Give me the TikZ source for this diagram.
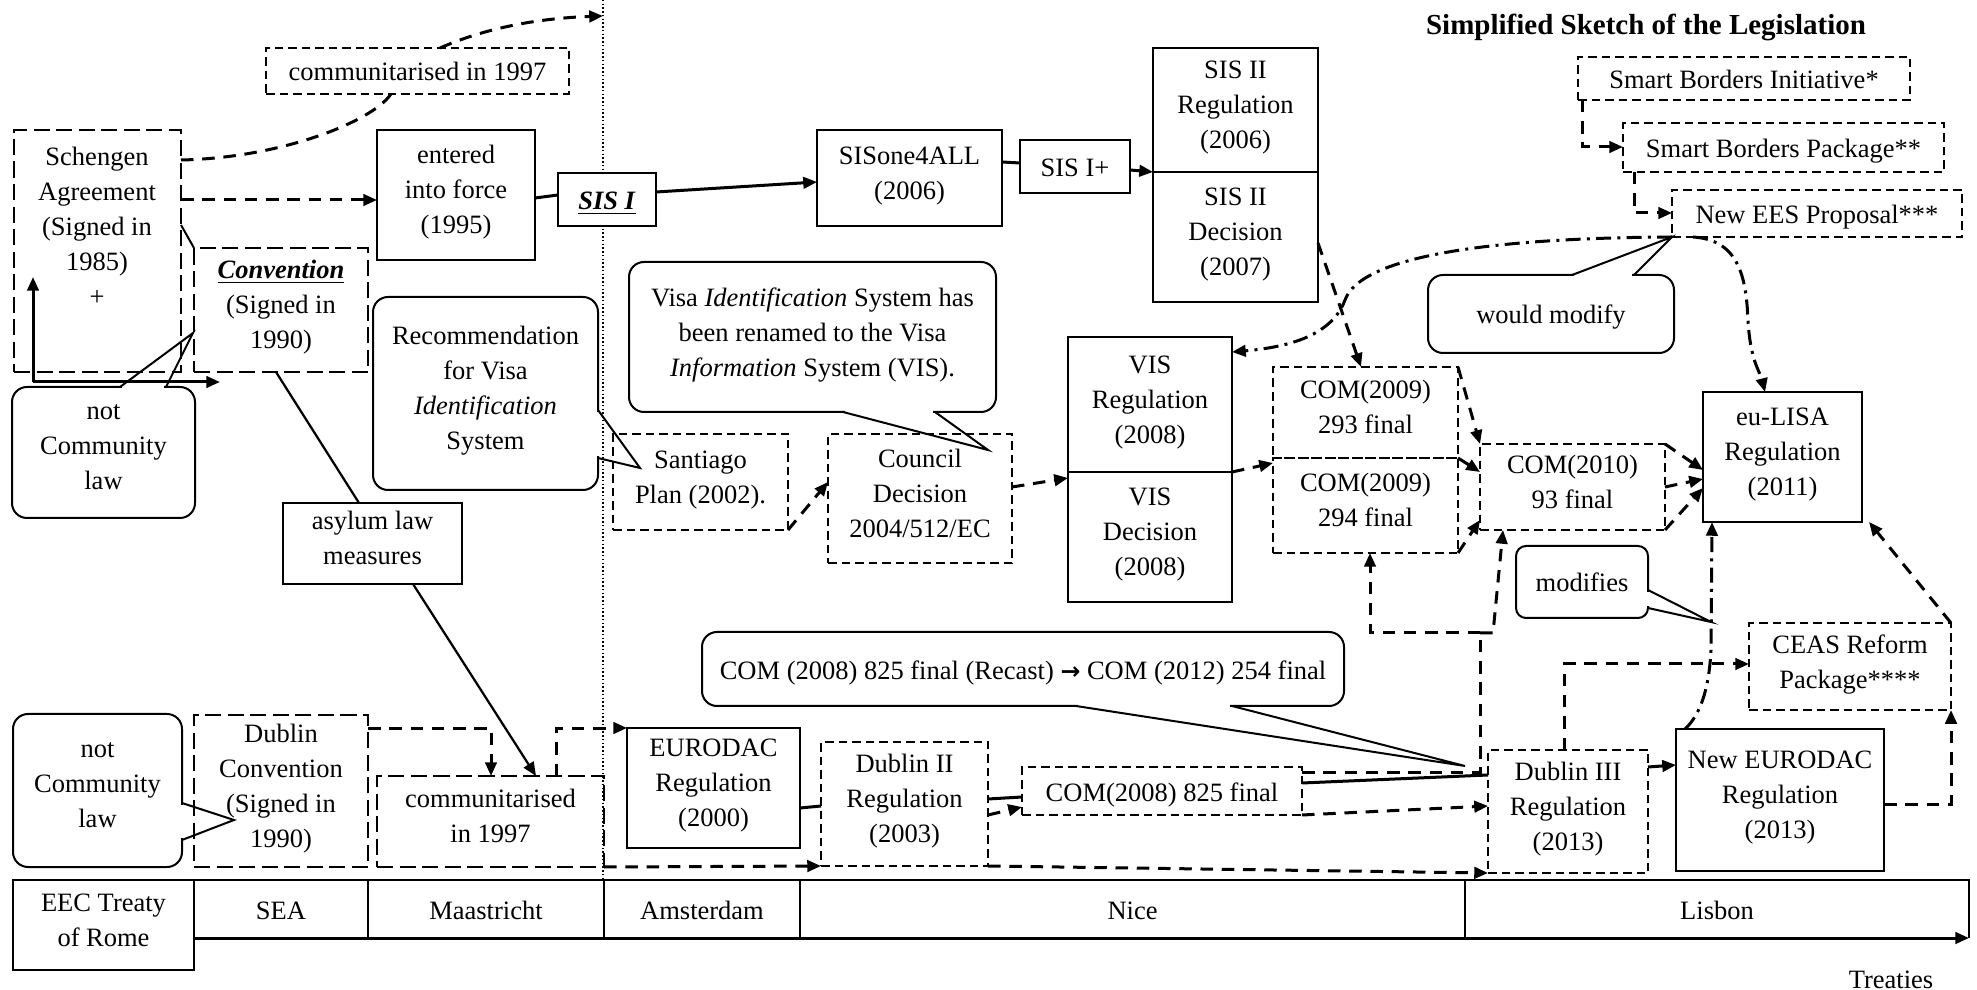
\documentclass[tikz,border=0pt]{standalone}
\usepackage{fontspec}
\setmainfont{Liberation Serif}
\newfontfamily\symfont{DejaVu Sans}
\usetikzlibrary{arrows.meta}
\newcommand{\bxn}[7][]{\node[#1, minimum width={(#5-#3)*0.4pt}, minimum height={(#6-#4)*0.4pt}] (#2) at ({(#3+#5)/2},{(#4+#6)/2}) {#7};}
\newcommand{\callptr}[3]{%
  \draw[white, line width=1.6pt, shorten <=0.8pt, shorten >=0.8pt] (#1) -- (#3);
  \draw[line width=0.8pt, line join=miter] (#1) -- (#2) -- (#3);}
\newcommand{\tstrut}{\rule[-4.2pt]{0pt}{16.4pt}}
\begin{document}
\begin{tikzpicture}[x=0.4pt,y=-0.4pt,
  txt/.style={inner sep=0pt, outer sep=0pt, align=center, font=\fontsize{10.6}{14}\selectfont, execute at begin node=\tstrut, execute at end node=\strut},
  sbox/.style={txt, draw, line width=0.8pt},
  dbox/.style={txt, draw, line width=0.8pt, dash pattern=on 3.4pt off 2pt},
  ldbox/.style={txt, draw, line width=0.8pt, dash pattern=on 6.5pt off 2.5pt},
  cbox/.style={txt, draw, line width=0.8pt, rounded corners=6pt, fill=white},
  con/.style={line width=1.2pt, dash pattern=on 5pt off 3.5pt},
  ddot/.style={line width=1.2pt, dash pattern=on 6pt off 2.5pt on 1.2pt off 2.5pt},
  sol/.style={line width=1.2pt},
  arr/.style={-{Triangle[length=5.5pt,width=4.6pt]}},
]
\useasboundingbox (0,0) rectangle (1977,990);

% title
\node[font=\bfseries\fontsize{11.6}{14}\selectfont, anchor=base, inner sep=0pt] (title) at (1646,35) {Simplified Sketch of the Legislation};

% dotted treaty line
\coordinate (dotA) at (603,0);
\coordinate (dotB) at (603,880);
\draw[line width=0.5pt, dash pattern=on 0.6pt off 0.9pt] (dotA) -- (dotB);

% ---------- boxes ----------
\bxn[dbox]{commtop}{266}{48}{569}{94}{communitarised in 1997}
\bxn[ldbox]{schengen}{14}{130}{181}{372}{}
\node[txt] (schengentxt) at (97,232) {Schengen\\Agreement\\(Signed in\\1985)\\+};
\bxn[ldbox]{convention}{194}{248}{368}{372}{\underline{\textbf{\textit{Convention}}}\\(Signed in\\1990)}
\bxn[sbox]{entered}{377}{130}{535}{260}{entered\\into force\\(1995)}
\bxn[sbox, fill=white]{sisI}{558}{173}{656}{226}{\underline{\textbf{\textit{SIS I}}}}
\bxn[sbox]{sis4all}{817}{130}{1002}{226}{SISone4ALL\\(2006)}
\bxn[sbox]{sisplus}{1020}{140}{1130}{193}{SIS I+}
\bxn[sbox]{sis2reg}{1153}{48}{1318}{172}{SIS II\\Regulation\\(2006)}
\bxn[sbox]{sis2dec}{1153}{172}{1318}{302}{SIS II\\Decision\\(2007)}
\bxn[dbox]{initiative}{1578}{57}{1910}{100}{Smart Borders Initiative*}
\bxn[dbox]{package}{1623}{123}{1944}{172}{Smart Borders Package**}
\bxn[dbox]{newees}{1672}{190}{1962}{237}{New EES Proposal***}
\bxn[dbox]{santiago}{613}{434}{788}{530}{Santiago\\Plan (2002).}
\bxn[dbox]{council}{828}{434}{1012}{563}{Council\\Decision\\2004/512/EC}
\bxn[sbox]{visreg}{1068}{337}{1232}{472}{VIS\\Regulation\\(2008)}
\bxn[sbox]{visdec}{1068}{472}{1232}{602}{VIS\\Decision\\(2008)}
\bxn[dbox]{com293}{1273}{367}{1458}{458}{COM(2009)\\293 final}
\bxn[dbox]{com294}{1273}{458}{1458}{553}{COM(2009)\\294 final}
\bxn[dbox]{com2010}{1480}{444}{1665}{530}{COM(2010)\\93 final}
\bxn[sbox]{eulisa}{1703}{392}{1862}{522}{eu-LISA\\Regulation\\(2011)}
\bxn[sbox]{asylum}{283}{503}{462}{584}{asylum law\\measures}
\bxn[ldbox]{dublinconv}{194}{715}{368}{867}{Dublin\\Convention\\(Signed in\\1990)}
\bxn[ldbox]{commbot}{377}{776}{604}{867}{communitarised\\in 1997}
\bxn[sbox]{eurodac}{627}{728}{800}{848}{EURODAC\\Regulation\\(2000)}
\bxn[dbox]{dublin2}{821}{742}{988}{866}{Dublin II\\Regulation\\(2003)}
\bxn[dbox]{com825}{1022}{767}{1302}{815}{COM(2008) 825 final}
\bxn[dbox]{dublin3}{1488}{750}{1648}{873}{Dublin III\\Regulation\\(2013)}
\bxn[sbox]{neweurodac}{1676}{729}{1884}{871}{New EURODAC\\Regulation\\(2013)}
\bxn[dbox]{ceas}{1749}{623}{1951}{710}{CEAS Reform\\Package****}

% ---------- timeline ----------
\bxn[sbox]{eec}{13}{880}{194}{970}{EEC Treaty\\of Rome}
\bxn[sbox]{sea}{194}{880}{368}{938}{SEA}
\bxn[sbox]{maas}{368}{880}{604}{938}{Maastricht}
\bxn[sbox]{amst}{604}{880}{800}{938}{Amsterdam}
\bxn[sbox]{nice}{800}{880}{1465}{938}{Nice}
\bxn[txt]{lisbon}{1465}{880}{1969}{938}{Lisbon}
\draw[line width=0.8pt] (lisbon.south west) -- (lisbon.north west) -- (lisbon.north east) -- (lisbon.south east);
\draw[line width=1.2pt, arr] (sea.south west) -- (lisbon.south east);
\node[txt] (treaties) at (1891,978) {Treaties};

% ---------- callouts ----------
\bxn[cbox]{nc1}{12}{387}{195}{518}{not\\Community\\law}
\callptr{nc1.north -| 120,0}{193,333}{nc1.north -| 166,0}
\bxn[cbox]{recom}{373}{297}{598}{490}{Recommendation\\for Visa\\\textit{Identification}\\System}
\callptr{recom.east |- 0,410}{640,468}{recom.east |- 0,458}
\bxn[cbox]{visa}{629}{262}{996}{412}{Visa \textit{Identification} System has\\been renamed to the Visa\\\textit{Information} System (VIS).}
\callptr{visa.south -| 843,0}{988,450}{visa.south -| 935,0}
\bxn[cbox]{would}{1428}{275}{1674}{353}{would modify}
\callptr{would.north -| 1572,0}{newees.south west}{would.north -| 1634,0}
\bxn[cbox, rounded corners=4pt]{modif}{1516}{546}{1648}{618}{modifies}
\callptr{modif.east |- 0,590}{1711,622}{modif.east |- 0,608}
\bxn[cbox]{recast}{702}{632}{1344}{706}{COM (2008) 825 final (Recast) {\symfont\bfseries\fontsize{9.5}{14}\selectfont →} COM (2012) 254 final}
\callptr{recast.south -| 1076,0}{1465,766}{recast.south -| 1232,0}
\bxn[cbox]{nc2}{13}{714}{182}{867}{not\\Community\\law}
\callptr{nc2.east |- 0,803}{234,820}{nc2.east |- 0,840}

% ---------- connectors ----------
\coordinate (dtop) at (603,16);
\draw[con] (schengen.east |- 0,160) .. controls (280,158) and (372,122) .. (commtop.south -| 391,0);
\draw[con,arr] (commtop.north -| 440,0) .. controls (490,26) and (545,18) .. (dtop);
\draw[con,arr] (schengen.east |- 0,200) -- (entered.west |- 0,200);
\draw[sol] (entered.east |- 0,198) -- (sisI.west |- 0,195);
\draw[sol,arr] (sisI.east |- 0,192) -- (sis4all.west |- 0,182);
\draw[sol] (sis4all.east |- 0,162) -- (sisplus.west |- 0,163);
\draw[sol,arr] (sisplus.east |- 0,170) -- (sis2reg.south west);
\draw[line width=0.8pt] (schengen.east |- 0,225) -- (convention.north west);
\coordinate (lc) at (33,382);
\coordinate (lu) at (33,277);
\coordinate (lr) at (220,382);
\draw[sol,arr] (lc) -- (lu);
\draw[sol,arr] (lc) -- (lr);
\draw[line width=0.9pt] (convention.south -| 276,0) -- (asylum.north -| 359,0);
\draw[line width=0.9pt,arr] (asylum.south -| 413,0) -- (commbot.north -| 536,0);
\draw[con,arr] (dublinconv.east |- 0,728) -| (commbot.north -| 491,0);
\draw[con,arr] (commbot.north -| 556,0) |- (eurodac.north west);
\draw[con,arr] (commbot.south east) -- (dublin2.south west);
\draw[con,arr] (dublin2.south east) -- (dublin3.south west);
\draw[sol] (eurodac.east |- 0,808) -- (dublin2.west |- 0,806);
\draw[sol] (dublin2.east |- 0,799) -- (com825.west |- 0,797);
\draw[con,arr] (dublin2.east |- 0,815) -- (com825.west |- 0,807);
\draw[sol] (com825.east |- 0,783) -- (dublin3.west |- 0,775);
\draw[con,arr] (com825.south east) -- (dublin3.west |- 0,806);
\coordinate (j1) at (1480,633);
\coordinate (j2) at (1493,633);
\draw[con] (com825.east |- 0,772) -| (j1);
\draw[con,arr] (j1) -| (com294.south -| 1370,0);
\draw[con,arr] (j1) -- (j2) -- (com2010.south -| 1503,0);
\draw[sol,arr] (dublin3.east |- 0,767) -- (neweurodac.west |- 0,765);
\draw[con,arr] (dublin3.north -| 1564,0) |- (ceas.west |- 0,664);
\draw[con,arr] (neweurodac.east |- 0,804) -| (ceas.south east);
\draw[con,arr] (ceas.north east) -- (eulisa.south -| 1869,0);
\draw[ddot,arr] (neweurodac.north -| 1685,0) .. controls (1700,715) and (1709,690) .. (1711,650) -- (eulisa.south -| 1712,0);
\draw[ddot,arr] (newees.south -| 1693,0) .. controls (1738,240) and (1746,275) .. (1748,320) .. controls (1750,360) and (1760,372) .. (eulisa.north -| 1765,0);
\draw[ddot,arr] (newees.south west) .. controls (1480,238) and (1360,258) .. (1345,300) .. controls (1332,335) and (1290,347) .. (visreg.east |- 0,352);
\draw[con,arr] (sis2dec.east |- 0,243) -- (com293.north -| 1361,0);
\draw[con,arr] (council.east |- 0,487) -- (visdec.west |- 0,478);
\draw[con,arr] (santiago.south east) -- (council.west |- 0,482);
\draw[con,arr] (visreg.south east) -- (com294.west |- 0,463);
\draw[con,arr] (com293.north east) -- (com2010.north west);
\draw[con,arr] (com293.south east) -- (com2010.west |- 0,472);
\draw[con,arr] (com294.south east) -- (com2010.west |- 0,520);
\draw[con,arr] (com2010.north east) -- (eulisa.west |- 0,470);
\draw[con,arr] (com2010.east |- 0,487) -- (eulisa.west |- 0,479);
\draw[con,arr] (com2010.south east) -- (eulisa.west |- 0,488);
\draw[con,arr] (initiative.south -| 1582,0) |- (package.west |- 0,147);
\draw[con,arr] (package.south -| 1634,0) |- (newees.west |- 0,213);
\end{tikzpicture}
\end{document}
